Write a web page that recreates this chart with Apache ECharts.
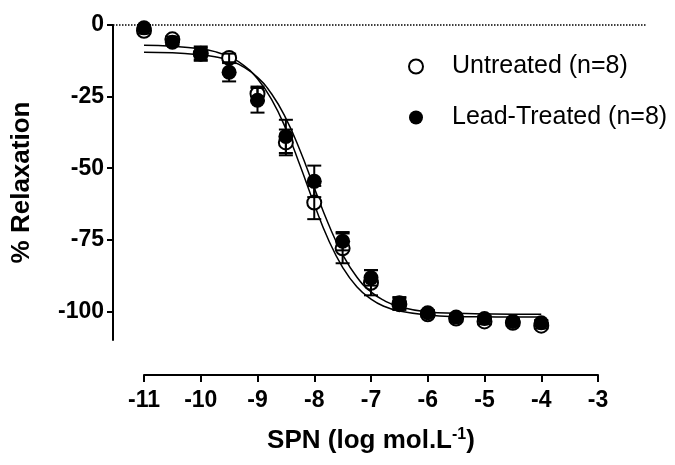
<!DOCTYPE html>
<html>
<head>
<meta charset="utf-8">
<script src="https://cdn.jsdelivr.net/npm/echarts@6/dist/echarts.min.js"></script>
<style>
  html, body { margin: 0; padding: 0; background: #fff; }
  #mChart { width: 675px; height: 465px; }
</style>
</head>
<body>
<div id="mChart"></div>
<script>
// log concentration of SPN
const xLog = [-11, -10.5, -10, -9.5, -9, -8.5, -8, -7.5, -7, -6.5, -6, -5.5, -5, -4.5, -4];
// untreated (open circles)
const untreatedMean = [-2, -5, -10, -11.5, -24, -41, -62, -78, -90, -97.5, -101, -102.5, -103.5, -104, -105];
const untreatedSem = [1, 1, 2, 1.5, 2.5, 4.5, 5.8, 5.2, 4.4, 2, 1, 1, 1, 1, 1];
// lead-treated (filled circles)
const leadMean = [-1, -6, -10, -16.5, -26.3, -38.9, -54.6, -75.5, -88.3, -97, -100.5, -102, -102.5, -103.5, -104];
const leadSem = [1, 1, 2.5, 3.2, 4.3, 5.8, 5.5, 3.2, 2.7, 2, 1, 1, 1, 1, 1];
// fitted curves
const fitX = [-11, -10.5, -10, -9.75, -9.5, -9.25, -9, -8.75, -8.5, -8.25, -8, -7.75, -7.5, -7.25, -7, -6.75, -6.5, -6, -5.5, -5, -4.5, -4];
const untreatedFit = [-7.1, -7.4, -8.3, -9.3, -11.1, -14.0, -18.8, -26.1, -36.3, -49.1, -62.6, -75.0, -84.6, -91.4, -95.7, -98.4, -99.9, -101.3, -101.8, -101.9, -102.0, -102.0];
const leadFit = [-9.5, -9.7, -10.4, -11.1, -12.4, -14.6, -18.3, -24.1, -32.6, -43.8, -56.8, -69.5, -80.1, -88.0, -93.2, -96.4, -98.4, -100.2, -100.7, -100.9, -101.0, -101.0];
const xTickMin = -11, xTickMax = -3;
const yTicks = [0, -25, -50, -75, -100];

// layout (pixels)
const yAxisX = 113, xStart = 144, xEnd = 598, plotRight = 647;
const unit = (xEnd - xStart) / (xTickMax - xTickMin);
const font = 'Liberation Sans, Arial, Helvetica, sans-serif';

function pairs(xs, ys) { return xs.map((x, i) => [x, ys[i]]); }

function errorBars(mean, sem) {
  return {
    type: 'custom',
    xAxisIndex: 0, yAxisIndex: 0,
    z: 3,
    silent: true,
    data: xLog.map((x, i) => [x, mean[i] - sem[i], mean[i] + sem[i]]),
    renderItem(params, api) {
      const x = api.value(0);
      const lo = api.coord([x, api.value(1)]);
      const hi = api.coord([x, api.value(2)]);
      const w = 7;
      const st = { stroke: '#000', lineWidth: 2 };
      return {
        type: 'group',
        children: [
          { type: 'line', shape: { x1: lo[0], y1: lo[1], x2: hi[0], y2: hi[1] }, style: st },
          { type: 'line', shape: { x1: lo[0] - w, y1: lo[1], x2: lo[0] + w, y2: lo[1] }, style: st },
          { type: 'line', shape: { x1: hi[0] - w, y1: hi[1], x2: hi[0] + w, y2: hi[1] }, style: st }
        ]
      };
    }
  };
}

let myChart = echarts.init(document.getElementById('mChart'));
myChart.setOption({
  animation: false,
  textStyle: { fontFamily: font },
  grid: [
    { left: yAxisX, right: 675 - plotRight, top: 25, bottom: 125 },
    { left: xStart, right: 675 - xEnd, top: 340, bottom: 90 }
  ],
  legend: {
    orient: 'vertical',
    left: 403,
    top: 49,
    itemWidth: 14,
    itemHeight: 14,
    itemGap: 26,
    textStyle: { fontSize: 25, fontFamily: font, color: '#000', padding: [0, 0, 0, 24] },
    data: [
      { name: 'Untreated (n=8)', icon: 'circle' },
      { name: 'Lead-Treated (n=8)', icon: 'circle' }
    ]
  },
  xAxis: [
    {
      gridIndex: 0, type: 'value', show: false,
      min: xTickMin - (xStart - yAxisX) / unit,
      max: xTickMax + (plotRight - xEnd) / unit
    },
    {
      gridIndex: 1, type: 'value',
      min: xTickMin, max: xTickMax, interval: 1,
      axisLine: { lineStyle: { color: '#000', width: 2 } },
      axisTick: { length: 7, lineStyle: { color: '#000', width: 2 } },
      axisLabel: { color: '#000', fontSize: 23, fontWeight: 'bold', margin: 14, fontFamily: font },
      splitLine: { show: false },
      name: '{a|SPN (log mol.L}{s|-1}{a|)}',
      nameLocation: 'middle',
      nameGap: 52,
      nameTextStyle: {
        rich: {
          a: { fontSize: 26, fontWeight: 'bold', color: '#000', fontFamily: font },
          s: { fontSize: 16, fontWeight: 'bold', color: '#000', fontFamily: font, padding: [0, 0, 12, 0] }
        }
      }
    }
  ],
  yAxis: [
    {
      gridIndex: 0, type: 'value', min: -110, max: 0,
      axisLine: { show: true, lineStyle: { color: '#000', width: 2 } },
      axisTick: { show: true, length: 6, customValues: yTicks, lineStyle: { color: '#000', width: 2 } },
      axisLabel: { customValues: yTicks, color: '#000', fontSize: 23, fontWeight: 'bold', margin: 9, fontFamily: font },
      splitLine: { show: false },
      name: '% Relaxation',
      nameLocation: 'middle',
      nameRotate: 90,
      nameGap: 78,
      nameTextStyle: { fontSize: 26, fontWeight: 'bold', color: '#000', fontFamily: font }
    },
    { gridIndex: 1, type: 'value', show: false, min: 0, max: 1 }
  ],
  series: [
    {
      name: 'fitUntreated', type: 'line', smooth: true, showSymbol: false, symbol: 'none',
      xAxisIndex: 0, yAxisIndex: 0, z: 1, silent: true,
      lineStyle: { color: '#000', width: 1.5 },
      data: pairs(fitX, untreatedFit)
    },
    {
      name: 'fitLead', type: 'line', smooth: true, showSymbol: false, symbol: 'none',
      xAxisIndex: 0, yAxisIndex: 0, z: 1, silent: true,
      lineStyle: { color: '#000', width: 1.5 },
      data: pairs(fitX, leadFit)
    },
    {
      name: 'Untreated (n=8)', type: 'scatter',
      xAxisIndex: 0, yAxisIndex: 0, z: 2,
      symbol: 'circle', symbolSize: 14,
      itemStyle: { color: '#fff', borderColor: '#000', borderWidth: 2, opacity: 1 },
      data: pairs(xLog, untreatedMean),
      markLine: {
        silent: true, symbol: 'none',
        label: { show: false },
        lineStyle: { color: '#000', type: 'dotted', width: 1.5 },
        data: [{ yAxis: 0 }]
      }
    },
    errorBars(untreatedMean, untreatedSem),
    errorBars(leadMean, leadSem),
    {
      name: 'Lead-Treated (n=8)', type: 'scatter',
      xAxisIndex: 0, yAxisIndex: 0, z: 4,
      symbol: 'circle', symbolSize: 15,
      itemStyle: { color: '#000', opacity: 1 },
      data: pairs(xLog, leadMean)
    }
  ]
});
</script>
</body>
</html>
